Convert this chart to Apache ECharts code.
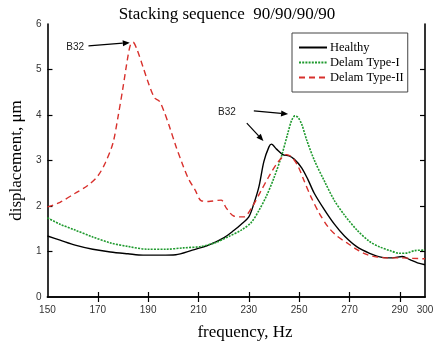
<!DOCTYPE html>
<html>
<head>
<meta charset="utf-8">
<script src="https://cdn.jsdelivr.net/npm/echarts@6/dist/echarts.min.js"></script>
<style>
  html, body { margin: 0; padding: 0; background: #fff; }
  #chart { width: 440px; height: 352px; }
</style>
</head>
<body>
<div id="chart"></div>
<script>
// frequency (Hz), displacement (um)
var healthy = [
  [150, 1.34], [155, 1.25], [161, 1.14], [168, 1.05], [175, 0.99], [182, 0.95],
  [188, 0.92], [195, 0.92], [201, 0.93], [207, 1.02], [214, 1.14], [220, 1.3],
  [224, 1.46], [227, 1.6], [230, 1.76], [232, 2.05], [234, 2.42], [236, 2.98],
  [238, 3.3], [239, 3.36], [241, 3.25], [243.5, 3.13], [246, 3.1], [248, 3.03],
  [251, 2.84], [253.5, 2.58], [256, 2.28], [260, 1.92], [264, 1.6], [268, 1.34],
  [273, 1.1], [278, 0.96], [283, 0.87], [287, 0.86], [291, 0.89], [294, 0.82],
  [297, 0.75], [300, 0.71]
];
var delamI = [
  [150, 1.74], [155, 1.6], [161, 1.47], [168, 1.32], [175, 1.19], [182, 1.11],
  [190, 1.05], [197, 1.05], [204, 1.08], [211, 1.11], [217, 1.2], [222, 1.33],
  [227, 1.47], [231, 1.64], [234, 1.9], [237, 2.22], [240, 2.62], [243, 3.1],
  [245.5, 3.6], [247, 3.88], [248.3, 3.98], [249.5, 3.95], [251, 3.8], [253, 3.45],
  [256, 3.01], [260, 2.55], [264, 2.12], [268, 1.8], [273, 1.47], [278, 1.22],
  [282, 1.1], [286, 1.02], [290, 0.96], [293, 0.97], [296, 1.02], [300, 1.03]
];
var delamII = [
  [150, 1.98], [155, 2.08], [161, 2.28], [166, 2.45], [170, 2.66], [173, 2.95],
  [176, 3.38], [178, 3.95], [180, 4.6], [182, 5.3], [183, 5.55], [184, 5.6],
  [185.5, 5.45], [188, 5.05], [190, 4.72], [192.5, 4.38], [194.5, 4.3], [196.5, 4.05],
  [198.5, 3.74], [201, 3.32], [203.5, 2.94], [206, 2.6], [208.7, 2.35], [211, 2.12],
  [214, 2.1], [219, 2.13], [221, 1.96], [224, 1.78], [228, 1.76], [231, 1.95],
  [235, 2.35], [238, 2.65], [241.5, 2.96], [245, 3.13], [247, 3.08], [249.5, 2.88],
  [252, 2.55], [254.7, 2.2], [258, 1.84], [261.5, 1.54], [265, 1.34], [269, 1.19],
  [273, 1.04], [277, 0.93], [281, 0.88], [285, 0.86], [290, 0.86], [295, 0.85],
  [300, 0.84]
];
var seriesNames = ["Healthy", "Delam Type-I", "Delam Type-II"];
var xLabels = [150, 170, 190, 210, 230, 250, 270, 290, 300];
var xTicks = [170, 190, 210, 230, 250, 270, 290];
var yTicks = [0, 1, 2, 3, 4, 5, 6];

// annotation positions in data coordinates: [text pos, arrow start, arrow end]
var notes = [
  { text: [161, 5.49], from: [166.3, 5.52], to: [182.7, 5.59] },
  { text: [221.3, 4.07], from: [232, 4.09], to: [245.6, 4.02] },
  { text: null, from: [229.2, 3.82], to: [235.8, 3.43] }
];

var serif = "Liberation Serif";
var sans = "Liberation Sans";

var chart = echarts.init(document.getElementById("chart"));
var frame = { lineStyle: { color: "#000", width: 1.6 } };

var option = {
  animation: false,
  title: {
    text: "Stacking sequence  90/90/90/90",
    left: 222, textAlign: "center", top: 1,
    textStyle: { fontFamily: serif, fontWeight: "normal", fontSize: 17, color: "#000" }
  },
  grid: { left: 44, right: 15, top: 24, bottom: 55 },
  legend: {
    orient: "vertical",
    left: 292, top: 33,
    padding: [8, 4, 8, 6],
    itemGap: 2,
    itemWidth: 28, itemHeight: 12,
    borderColor: "#444", borderWidth: 1,
    itemStyle: { opacity: 0 },
    data: seriesNames,
    textStyle: { fontFamily: serif, fontSize: 12.5, color: "#000", padding: [0, 0, 0, -2] }
  },
  xAxis: [
    {
      type: "value", min: 150, max: 300, position: "bottom",
      axisLine: frame,
      axisTick: { inside: true, length: 5, customValues: xTicks, lineStyle: { color: "#000", width: 1.2 } },
      axisLabel: { customValues: xLabels, margin: 8, fontFamily: sans, fontSize: 10, color: "#333" },
      splitLine: { show: false }
    },
    {
      type: "value", min: 150, max: 300, position: "top",
      axisLine: frame,
      axisTick: { inside: true, length: 5, customValues: xTicks, lineStyle: { color: "#000", width: 1.2 } },
      axisLabel: { show: false },
      splitLine: { show: false }
    }
  ],
  yAxis: [
    {
      type: "value", min: 0, max: 6, interval: 1, position: "left",
      name: "displacement, \u03bcm", nameLocation: "middle", nameGap: 17,
      nameTextStyle: { fontFamily: serif, fontSize: 17, color: "#000" },
      axisLine: frame,
      axisTick: { inside: true, length: 5, customValues: [1, 2, 3, 4, 5], lineStyle: { color: "#000", width: 1.2 } },
      axisLabel: { customValues: yTicks, margin: 6, fontFamily: sans, fontSize: 10, color: "#333" },
      splitLine: { show: false }
    },
    {
      type: "value", min: 0, max: 6, interval: 1, position: "right",
      axisLine: frame,
      axisTick: { inside: true, length: 5, customValues: [1, 2, 3, 4, 5], lineStyle: { color: "#000", width: 1.2 } },
      axisLabel: { show: false },
      splitLine: { show: false }
    }
  ],
  series: [
    {
      name: seriesNames[0], type: "line", data: healthy, smooth: 0.3,
      showSymbol: false, symbol: "none", color: "#000",
      lineStyle: { color: "#000", width: 1.4 }
    },
    {
      name: seriesNames[1], type: "line", data: delamI, smooth: 0.3,
      showSymbol: false, symbol: "none", color: "#1f9a2e",
      lineStyle: { color: "#1f9a2e", width: 1.6, type: [2, 1.2] }
    },
    {
      name: seriesNames[2], type: "line", data: delamII, smooth: 0.3,
      showSymbol: false, symbol: "none", color: "#d8302c",
      lineStyle: { color: "#d8302c", width: 1.4, type: [6, 4] }
    }
  ]
};
chart.setOption(option);

// annotations: text and arrows placed from data coordinates
var gfx = [];
notes.forEach(function (n) {
  if (n.text) {
    var tp = chart.convertToPixel({ gridIndex: 0 }, n.text);
    gfx.push({
      type: "text", x: tp[0], y: tp[1],
      style: { text: "B32", fontFamily: sans, fontSize: 10, fill: "#222", align: "center", verticalAlign: "middle" }
    });
  }
  var a = chart.convertToPixel({ gridIndex: 0 }, n.from);
  var b = chart.convertToPixel({ gridIndex: 0 }, n.to);
  var ang = Math.atan2(b[1] - a[1], b[0] - a[0]);
  var hl = 7, hw = 3;
  var bx = b[0] - hl * Math.cos(ang), by = b[1] - hl * Math.sin(ang);
  gfx.push({
    type: "line",
    shape: { x1: a[0], y1: a[1], x2: bx, y2: by },
    style: { stroke: "#000", lineWidth: 1.2 }
  });
  gfx.push({
    type: "polygon",
    shape: { points: [
      [b[0], b[1]],
      [bx + hw * Math.sin(ang), by - hw * Math.cos(ang)],
      [bx - hw * Math.sin(ang), by + hw * Math.cos(ang)]
    ] },
    style: { fill: "#000" }
  });
});
gfx.push({
  type: "text", x: 245, y: 333,
  style: { text: "frequency, Hz", fontFamily: serif, fontSize: 17, fill: "#000", align: "center", verticalAlign: "middle" }
});
chart.setOption({ graphic: gfx });
</script>
</body>
</html>
